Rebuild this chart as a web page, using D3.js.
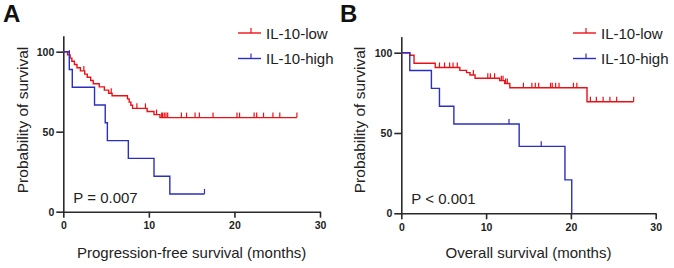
<!DOCTYPE html>
<html>
<head>
  <meta charset="utf-8" />
  <title>IL-10 survival</title>
  <script src="https://cdnjs.cloudflare.com/ajax/libs/d3/7.8.5/d3.min.js"></script>
  <style>
    body { margin: 0; background: #fff; }
    svg { display: block; font-family: Arial, "Liberation Sans", sans-serif; }
  </style>
</head>
<body>
  <svg id="chart" width="674" height="268"></svg>
  <script>
    // ---- data ----
    const seriesNames = ['IL-10-low', 'IL-10-high']
    const xTicks = [0, 10, 20, 30]
    const yTicks = [0, 50, 100]

    // A: progression-free survival
    const pfsLowTime = [0, 0.5, 0.8, 1.0, 1.3, 1.6, 2.0, 2.5, 2.8, 3.2, 3.5, 4.2, 4.8, 5.3, 5.7, 7.5, 7.7, 7.9, 8.1, 9.8, 10.6, 11.3]
    const pfsLowSurv = [100, 98, 96, 94, 92, 90, 88, 86, 84, 82, 80, 78, 76, 74, 72.5, 70.5, 68.5, 66.5, 64.6, 62.6, 60.7, 58.8]
    const pfsLowCensor = [0.7, 2.4, 5.6, 8.6, 9.6, 10.9, 11.5, 11.6, 11.8, 12.0, 12.2, 13.8, 14.4, 15.4, 15.9, 17.5, 20.3, 20.6, 22.3, 22.6, 23.4, 24.5, 25.3, 27.3]
    const pfsLowEnd = 27.3
    const pfsHighTime = [0, 0.7, 1.05, 3.65, 4.9, 5.15, 7.6, 10.6, 12.45]
    const pfsHighSurv = [100, 88.9, 77.8, 66.7, 55.6, 44.4, 33.3, 22.2, 11.1]
    const pfsHighCensor = [16.5]
    const pfsHighEnd = 16.5

    // B: overall survival
    const osLowTime = [0, 1.0, 1.5, 4.0, 6.9, 7.7, 8.1, 8.7, 11.6, 12.2, 12.8, 21.9]
    const osLowSurv = [100, 98.4, 93.4, 90.8, 89.0, 87.6, 86.1, 84.1, 82.6, 80.8, 78.2, 69.5]
    const osLowCensor = [4.5, 5.1, 5.7, 6.1, 6.6, 8.5, 10.2, 10.5, 11.0, 11.8, 12.0, 12.3, 12.5, 14.4, 15.4, 15.8, 16.2, 17.6, 17.8, 18.2, 18.6, 20.3, 20.7, 22.3, 23.0, 23.8, 24.6, 25.4, 27.4]
    const osLowEnd = 27.4
    const osHighTime = [0, 1.0, 3.55, 4.5, 6.2, 13.9, 19.3, 20.1]
    const osHighSurv = [100, 88.9, 77.8, 66.7, 55.6, 41.7, 20.8, 0]
    const osHighCensor = [12.7, 16.5]
    const osHighEnd = 20.1

    const colors = ['#ec1016', '#2b2fbf']

    const panels = [
      {
        label: 'A', xTitle: 'Progression-free survival (months)', pText: 'P = 0.007',
        left: 63.3, right: 320, bottom: 211.7, top100: 51.7, labelX: 3, yTitleX: 22.5, legX: 238,
        series: [
          { t: pfsLowTime, s: pfsLowSurv, c: pfsLowCensor, end: pfsLowEnd },
          { t: pfsHighTime, s: pfsHighSurv, c: pfsHighCensor, end: pfsHighEnd }
        ]
      },
      {
        label: 'B', xTitle: 'Overall survival (months)', pText: 'P < 0.001',
        left: 401.3, right: 655.7, bottom: 213.3, top100: 52.7, labelX: 340, yTitleX: 359, legX: 573,
        series: [
          { t: osLowTime, s: osLowSurv, c: osLowCensor, end: osLowEnd },
          { t: osHighTime, s: osHighSurv, c: osHighCensor, end: osHighEnd }
        ]
      }
    ]

    const svg = d3.select('#chart')

    function survAt(t, times, surv) {
      let v = surv[0]
      for (let i = 0; i < times.length; i++) { if (times[i] <= t) v = surv[i] }
      return v
    }

    panels.forEach(function(p) {
      const g = svg.append('g')
      const xScale = d3.scaleLinear().domain([0, 30]).range([p.left, p.right])
      const pxPer = (p.bottom - p.top100) / 100
      const yScale = d3.scaleLinear().domain([0, 110]).range([p.bottom, p.bottom - 110 * pxPer])

      const xAxis = d3.axisBottom(xScale).tickValues(xTicks).tickSize(6).tickPadding(4).tickSizeOuter(0)
      const yAxis = d3.axisLeft(yScale).tickValues(yTicks).tickSize(7).tickPadding(2).tickSizeOuter(0)

      const gx = g.append('g').attr('transform', 'translate(0,' + p.bottom + ')').call(xAxis)
      const gy = g.append('g').attr('transform', 'translate(' + p.left + ',0)').call(yAxis)
      ;[gx, gy].forEach(function(a) {
        a.selectAll('path, line').attr('stroke', '#2a2a2a').attr('stroke-width', 1.6)
        a.selectAll('text').attr('fill', '#222').style('font-size', '10.5px').style('font-weight', 'bold')
      })

      // curves
      p.series.forEach(function(sr, i) {
        const pts = sr.t.map(function(t, k) { return [t, sr.s[k]] })
        if (sr.end > sr.t[sr.t.length - 1]) pts.push([sr.end, sr.s[sr.s.length - 1]])
        const line = d3.line()
          .x(function(d) { return xScale(d[0]) })
          .y(function(d) { return yScale(d[1]) })
          .curve(d3.curveStepAfter)
        g.append('path')
          .attr('d', line(pts))
          .style('fill', 'none')
          .style('stroke', colors[i])
          .style('stroke-width', 1.4)

        g.selectAll(null)
          .data(sr.c)
          .enter()
          .append('line')
          .attr('x1', function(d) { return xScale(d) })
          .attr('x2', function(d) { return xScale(d) })
          .attr('y1', function(d) { return yScale(survAt(d, sr.t, sr.s)) })
          .attr('y2', function(d) { return yScale(survAt(d, sr.t, sr.s)) - 5 })
          .style('stroke', colors[i])
          .style('stroke-width', 1.2)
      })

      // legend
      seriesNames.forEach(function(name, i) {
        const ly = 33 + i * 25.5
        g.append('line').attr('x1', p.legX).attr('x2', p.legX + 23).attr('y1', ly).attr('y2', ly)
          .style('stroke', colors[i]).style('stroke-width', 1.4)
        g.append('line').attr('x1', p.legX + 13).attr('x2', p.legX + 13).attr('y1', ly).attr('y2', ly - 5)
          .style('stroke', colors[i]).style('stroke-width', 1.2)
        g.append('text').attr('x', p.legX + 28).attr('y', ly + 5.5)
          .style('font-size', '15px').attr('fill', '#222').text(name)
      })

      // titles
      g.append('text').attr('x', (p.left + p.right) / 2).attr('y', 258)
        .attr('text-anchor', 'middle').style('font-size', '15px').attr('fill', '#222').text(p.xTitle)
      g.append('text')
        .attr('transform', 'translate(' + p.yTitleX + ',120) rotate(-90)')
        .attr('text-anchor', 'middle').attr('dominant-baseline', 'central')
        .style('font-size', '15.5px').attr('fill', '#222').text('Probability of survival')
      g.append('text').attr('x', p.left + 10).attr('y', p.bottom - 9)
        .style('font-size', '15px').attr('fill', '#222').text(p.pText)
      g.append('text').attr('x', p.labelX).attr('y', 22)
        .style('font-size', '24px').style('font-weight', 'bold').attr('fill', '#111').text(p.label)
    })
  </script>
</body>
</html>
